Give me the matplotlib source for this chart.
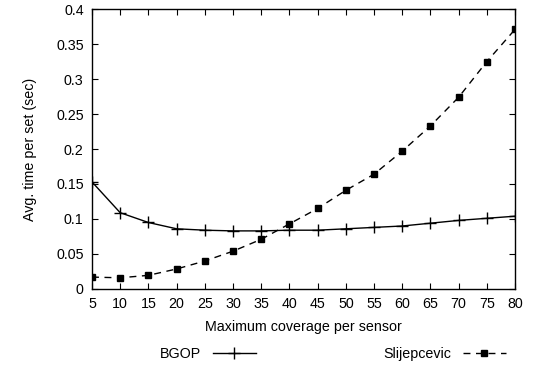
import numpy as np
import matplotlib
matplotlib.use("Agg")
import matplotlib.pyplot as plt

plt.rcParams['font.family'] = ['Liberation Sans', 'DejaVu Sans']

# max coverage per sensor
coverage = [5, 10, 15, 20, 25, 30, 35, 40, 45, 50, 55, 60, 65, 70, 75, 80]
# avg time per set (sec)
bgop = [0.153, 0.109, 0.095, 0.086, 0.084, 0.083, 0.083, 0.084, 0.084, 0.086,
        0.088, 0.090, 0.094, 0.098, 0.101, 0.104]
slijepcevic = [0.017, 0.016, 0.0195, 0.0286, 0.040, 0.054, 0.071, 0.093, 0.115, 0.141,
               0.164, 0.197, 0.233, 0.274, 0.325, 0.371]

fs = 10.3

fig = plt.figure(figsize=(5.36, 3.68), dpi=100)
ax = fig.add_axes([0.1716, 0.2147, 0.7894, 0.7608])

ax.plot(coverage, bgop, color='k', lw=1, marker='+', ms=8, mew=1, label='BGOP')
ax.plot(coverage, slijepcevic, color='k', lw=1, ls=(0, (5, 4)), marker='s', ms=4,
        label='Slijepcevic')

ax.set_xlim(5, 80)
ax.set_ylim(0, 0.4)
ax.set_xticks(coverage)
ax.set_yticks(np.arange(0, 0.41, 0.05))
ax.set_yticklabels(['0', '0.05', '0.1', '0.15', '0.2', '0.25', '0.3', '0.35', '0.4'])
ax.tick_params(direction='in', top=True, right=True, length=4, labelsize=fs, pad=6)
for s in ax.spines.values():
    s.set_linewidth(1)

ax.set_xlabel('Maximum coverage per sensor', fontsize=fs, labelpad=6)
ax.set_ylabel('Avg. time per set (sec)', fontsize=fs, labelpad=14)

ax.legend(loc='upper left', bbox_to_anchor=(0.147, -0.185), bbox_transform=ax.transAxes,
          ncol=2, frameon=False, markerfirst=False, handlelength=3.0,
          columnspacing=8.95, fontsize=fs, borderaxespad=0)

fig.savefig('out.png', dpi=100)
